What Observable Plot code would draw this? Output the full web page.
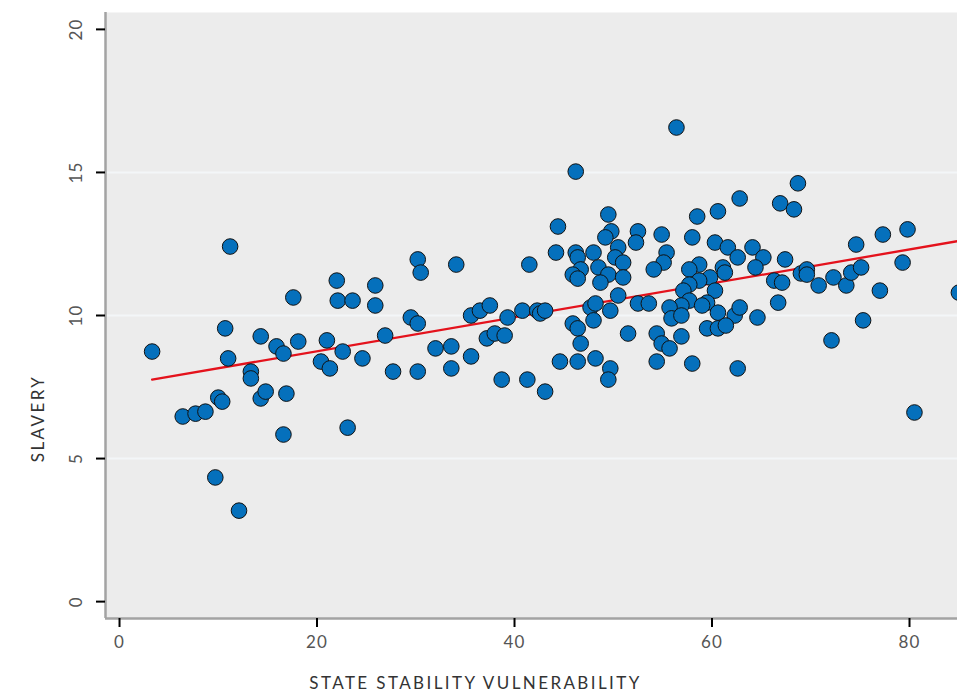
<!DOCTYPE html>
<html>
<head>
<meta charset="utf-8">
<script src="https://cdn.jsdelivr.net/npm/d3@7"></script>
<script src="https://cdn.jsdelivr.net/npm/@observablehq/plot@0.6"></script>
<style>
  html, body { margin: 0; padding: 0; background: #fff; }
  #chart svg g[aria-label="text"] text { letter-spacing: 2.4px; }
  #chart svg g[aria-label="x-axis tick label"] text,
  #chart svg g[aria-label="y-axis tick label"] text { letter-spacing: 1.2px; }
</style>
</head>
<body>
<div id="chart"></div>
<script>
// State stability vulnerability (x) and slavery (y) per country
const stateVulnerability = [
  3.3, 6.4, 7.7, 8.7, 9.7, 10.0, 10.4, 10.7, 11.0, 11.2, 12.1, 13.3, 13.3, 14.3, 14.3, 14.8, 15.9, 16.6, 16.6, 16.9, 17.6, 18.1,
  20.4, 21.0, 21.3, 22.0, 22.1, 22.6, 23.1, 23.6, 24.6, 25.9, 25.9, 26.9, 27.7, 29.5, 30.2, 30.2, 30.2, 30.5, 32.0, 33.6, 33.6, 34.1, 35.6, 35.6, 36.5,
  37.5, 39.3, 40.8, 42.3, 42.6, 43.1, 37.2, 38.0, 39.0, 38.7, 41.3, 43.1, 41.5, 44.2, 44.4, 46.2, 46.2, 46.4, 46.7, 45.9, 46.4, 48.0, 48.5, 49.5, 48.7,
  49.5, 49.8, 49.2, 50.5, 50.2, 51.0, 51.0, 52.5, 52.3, 50.5, 52.5, 47.7, 48.2, 49.7, 45.9, 46.4, 48.0, 46.7, 51.5, 44.6, 46.4, 48.2, 49.7, 49.5,
  56.4, 68.7, 62.8, 66.9, 68.3, 58.5, 60.6, 54.9, 58.0, 60.3, 61.6, 62.6, 64.1, 65.2, 64.4, 67.4, 55.4, 55.1, 54.1, 58.7, 57.7, 61.1, 61.3, 59.8, 58.7,
  57.7, 57.1, 60.3, 57.7, 59.5, 59.0, 56.9, 55.7, 55.9, 56.9, 60.6, 62.3, 62.8, 64.6, 66.7, 66.3, 67.1, 69.0, 53.6, 54.4, 54.9, 55.7, 56.9, 59.5, 60.6,
  61.4, 54.4, 58.0, 62.6,
  74.6, 77.3, 79.8, 69.6, 69.6, 70.8, 72.3, 73.6, 74.1, 75.1, 79.3, 77.0, 75.3, 72.1, 80.5, 85.0
];
const slavery = [
  8.74, 6.47, 6.57, 6.64, 4.34, 7.13, 6.99, 9.55, 8.50, 12.41, 3.18, 8.04, 7.80, 9.27, 7.10, 7.34, 8.92, 8.67, 5.84, 7.27, 10.63, 9.09,
  8.39, 9.13, 8.15, 11.22, 10.52, 8.74, 6.08, 10.52, 8.50, 11.05, 10.35, 9.30, 8.04, 9.93, 11.96, 9.72, 8.04, 11.50, 8.85, 8.92, 8.15, 11.78, 10.00, 8.57, 10.17,
  10.35, 9.93, 10.17, 10.17, 10.07, 10.17, 9.20, 9.37, 9.30, 7.76, 7.76, 7.34, 11.78, 12.20, 13.11, 15.03, 12.20, 12.03, 11.61, 11.43, 11.29, 12.20, 11.68, 11.43, 11.15,
  13.53, 12.94, 12.73, 12.38, 12.03, 11.85, 11.33, 12.94, 12.55, 10.70, 10.42, 10.28, 10.42, 10.17, 9.72, 9.55, 9.83, 9.02, 9.37, 8.39, 8.39, 8.50, 8.15, 7.76,
  16.57, 14.62, 14.09, 13.92, 13.71, 13.46, 13.64, 12.83, 12.73, 12.55, 12.38, 12.03, 12.38, 12.03, 11.68, 11.96, 12.20, 11.85, 11.61, 11.78, 11.61, 11.68, 11.50, 11.33, 11.22,
  11.08, 10.87, 10.87, 10.52, 10.45, 10.35, 10.35, 10.28, 9.90, 10.00, 10.10, 10.00, 10.28, 9.93, 10.45, 11.22, 11.15, 11.47, 10.42, 9.37, 9.02, 8.85, 9.27, 9.55, 9.55,
  9.65, 8.39, 8.32, 8.15,
  12.48, 12.83, 13.01, 11.61, 11.43, 11.05, 11.33, 11.05, 11.50, 11.68, 11.85, 10.87, 9.83, 9.13, 6.61, 10.80
];
const xTicks = [0, 20, 40, 60, 80];
const yTicks = [0, 5, 10, 15, 20];
const gridLines = [5, 10, 15];
const xTitle = "STATE STABILITY VULNERABILITY";
const yTitle = "SLAVERY";

const data = stateVulnerability.map((x, i) => ({x, y: slavery[i]}));
const xDomain = [-1.42, 84.86];
const yDomain = [-0.59, 20.59];

const chart = Plot.plot({
  width: 957,
  height: 693,
  marginLeft: 105,
  marginRight: 0,
  marginTop: 12,
  marginBottom: 75,
  style: {fontFamily: "Lato, 'Open Sans', sans-serif", background: "#fff"},
  x: {domain: xDomain},
  y: {domain: yDomain},
  marks: [
    Plot.frame({fill: "#ececec", stroke: null}),
    Plot.ruleY(gridLines, {stroke: "#f3f6f8", strokeWidth: 2}),
    Plot.linearRegressionY(data, {x: "x", y: "y", stroke: "#e4121c", strokeWidth: 2.3, ci: 0, clip: true}),
    Plot.dot(data, {x: "x", y: "y", r: 7.8, fill: "#0570bc", stroke: "#111", strokeWidth: 1, clip: true}),
    Plot.ruleX([xDomain[0]], {stroke: "#a3a3a3", strokeWidth: 2.5}),
    Plot.ruleY([yDomain[0]], {stroke: "#a3a3a3", strokeWidth: 2.5}),
    Plot.axisX({ticks: xTicks, tickSize: 9, tickPadding: 8, stroke: "#000", strokeWidth: 2, fill: "#555", fontSize: 17, label: null}),
    Plot.axisY({ticks: yTicks, tickSize: 9, tickPadding: 15, tickRotate: -90, stroke: "#000", strokeWidth: 2, fill: "#555", fontSize: 17, label: null}),
    Plot.text([xTitle], {frameAnchor: "bottom", textAnchor: "middle", lineAnchor: "middle", dx: -56, dy: 65, fontSize: 17, fill: "#333"}),
    Plot.text([yTitle], {frameAnchor: "left", textAnchor: "middle", lineAnchor: "middle", dx: -67, dy: 103, rotate: -90, fontSize: 17, fill: "#333"})
  ]
});
document.getElementById("chart").appendChild(chart);
</script>
</body>
</html>
